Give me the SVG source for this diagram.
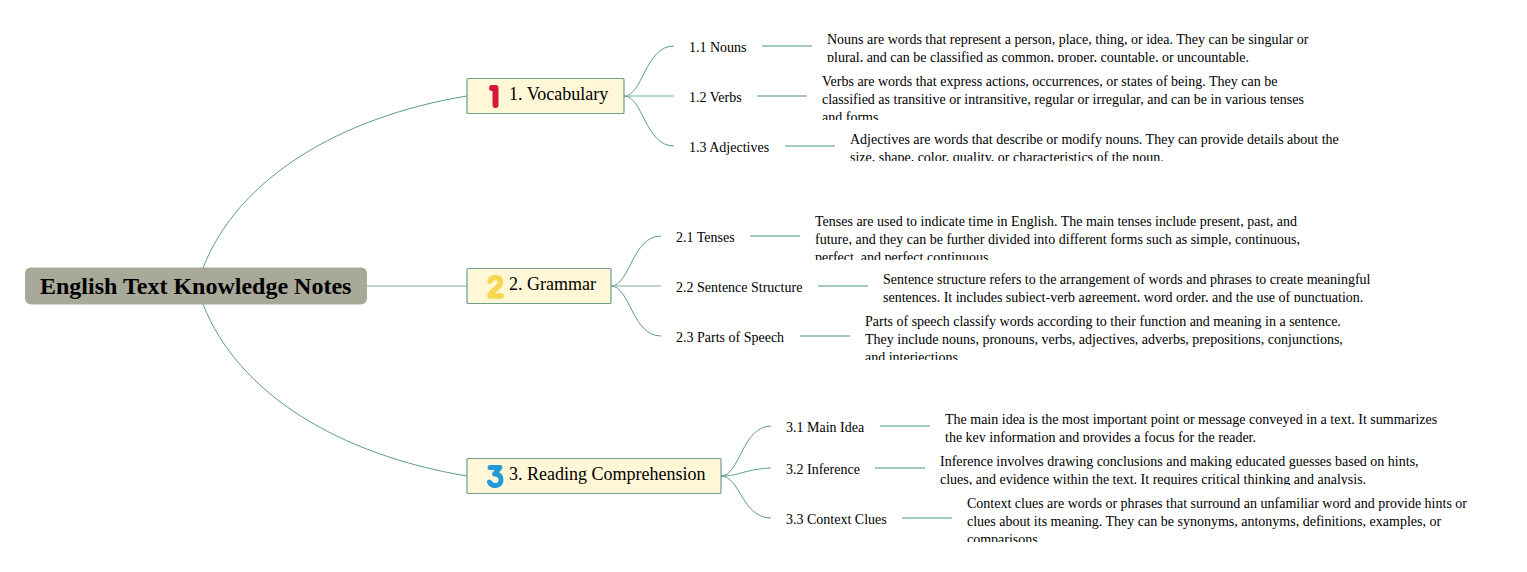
<svg xmlns="http://www.w3.org/2000/svg" width="1527" height="572" viewBox="0 0 1527 572">
<style>
text{font-family:"Liberation Serif","Times New Roman",serif;fill:#000}
.sub,.note{font-size:14px}
.topic{font-size:18px}
.root{font-size:24px;font-weight:bold}
.c{fill:none;stroke:#5f9a8e;stroke-width:1}
.n{fill:none;stroke:#a5c9c0;stroke-width:2}
.t{fill:#fff7d6;stroke:#6f9f90;stroke-width:1.2}
.i{fill:none;stroke-linecap:round;stroke-linejoin:round}
</style>
<defs>
<clipPath id="c11"><rect x="820" y="30" width="500" height="32"/></clipPath>
<clipPath id="c12"><rect x="815" y="72" width="500" height="48"/></clipPath>
<clipPath id="c13"><rect x="845" y="130" width="500" height="31"/></clipPath>
<clipPath id="c21"><rect x="810" y="212" width="500" height="48"/></clipPath>
<clipPath id="c22"><rect x="878" y="270" width="500" height="32"/></clipPath>
<clipPath id="c23"><rect x="860" y="312" width="500" height="48"/></clipPath>
<clipPath id="c31"><rect x="940" y="410" width="500" height="32"/></clipPath>
<clipPath id="c32"><rect x="935" y="452" width="500" height="33"/></clipPath>
<clipPath id="c33"><rect x="962" y="494" width="510" height="48"/></clipPath>
</defs>
<g id="connectors">
<path class="c" d="M203 268C238 178 340 117 467 96"/>
<path class="n" style="stroke-width:1.5" d="M367 286H467"/>
<path class="c" d="M203 304C238 394 340 455 467 476"/>
<path class="c" d="M624 96C643 96 645 46 674 46"/>
<path class="n" style="stroke-width:1.5" d="M624 96H674"/>
<path class="c" d="M624 96C643 96 645 146 674 146"/>
<path class="c" d="M611 286C630 286 632 236 661 236"/>
<path class="n" style="stroke-width:1.5" d="M611 286H661"/>
<path class="c" d="M611 286C630 286 632 336 661 336"/>
<path class="c" d="M721 476C740 476 742 426 771 426"/>
<path class="c" d="M721 476C740 476 745 469 771 468"/>
<path class="c" d="M721 476C740 476 742 518 771 518"/>
<path class="n" d="M762 46H812"/>
<path class="n" d="M757 96H807"/>
<path class="n" d="M785 146H835"/>
<path class="n" d="M750 236H800"/>
<path class="n" d="M818 286H868"/>
<path class="n" d="M800 336H850"/>
<path class="n" d="M880 426H930"/>
<path class="n" d="M875 468H925"/>
<path class="n" d="M902 518H952"/>
</g>
<g id="root"><rect x="25" y="267.500" width="342" height="37" rx="6" fill="#a9a999"/><text class="root" x="40" y="294">English Text Knowledge Notes</text></g>
<g id="topic1"><rect class="t" x="467" y="78.500" width="157" height="35" rx="1"/>
<path class="i" stroke="#d6163a" stroke-width="6" d="M492 88H495.500V105"/>
<text class="topic" x="509" y="100">1. Vocabulary</text></g>
<g id="topic2"><rect class="t" x="467" y="268.500" width="144" height="35" rx="1"/>
<path class="i" stroke="#f7d74f" stroke-width="5.500" d="M490 281C490.500 277 500.500 275.500 500.500 282C500.500 288 491 290 490 296H501"/>
<text class="topic" x="509" y="290">2. Grammar</text></g>
<g id="topic3"><rect class="t" x="467" y="458.500" width="254" height="35" rx="1"/>
<path class="i" stroke="#2299d8" stroke-width="5" d="M490 467.500H500L494.500 474C500 474 501 477 501 480C501 487 491.500 487 489.500 482"/>
<text class="topic" x="509" y="480">3. Reading Comprehension</text></g>
<g id="s11"><text class="sub" x="689" y="52">1.1 Nouns</text></g>
<g id="n11" clip-path="url(#c11)"><text class="note" x="827" y="44">Nouns are words that represent a person, place, thing, or idea. They can be singular or</text><text class="note" x="827" y="62">plural, and can be classified as common, proper, countable, or uncountable.</text></g>
<g id="s12"><text class="sub" x="689" y="102">1.2 Verbs</text></g>
<g id="n12" clip-path="url(#c12)"><text class="note" x="822" y="86">Verbs are words that express actions, occurrences, or states of being. They can be</text><text class="note" x="822" y="104">classified as transitive or intransitive, regular or irregular, and can be in various tenses</text><text class="note" x="822" y="122">and forms.</text></g>
<g id="s13"><text class="sub" x="689" y="152">1.3 Adjectives</text></g>
<g id="n13" clip-path="url(#c13)"><text class="note" x="850" y="144">Adjectives are words that describe or modify nouns. They can provide details about the</text><text class="note" x="850" y="162">size, shape, color, quality, or characteristics of the noun.</text></g>
<g id="s21"><text class="sub" x="676" y="242">2.1 Tenses</text></g>
<g id="n21" clip-path="url(#c21)"><text class="note" x="815" y="226">Tenses are used to indicate time in English. The main tenses include present, past, and</text><text class="note" x="815" y="244">future, and they can be further divided into different forms such as simple, continuous,</text><text class="note" x="815" y="262">perfect, and perfect continuous.</text></g>
<g id="s22"><text class="sub" x="676" y="292">2.2 Sentence Structure</text></g>
<g id="n22" clip-path="url(#c22)"><text class="note" x="883" y="284">Sentence structure refers to the arrangement of words and phrases to create meaningful</text><text class="note" x="883" y="302">sentences. It includes subject-verb agreement, word order, and the use of punctuation.</text></g>
<g id="s23"><text class="sub" x="676" y="342">2.3 Parts of Speech</text></g>
<g id="n23" clip-path="url(#c23)"><text class="note" x="865" y="326">Parts of speech classify words according to their function and meaning in a sentence.</text><text class="note" x="865" y="344">They include nouns, pronouns, verbs, adjectives, adverbs, prepositions, conjunctions,</text><text class="note" x="865" y="362">and interjections.</text></g>
<g id="s31"><text class="sub" x="786" y="432">3.1 Main Idea</text></g>
<g id="n31" clip-path="url(#c31)"><text class="note" x="945" y="424">The main idea is the most important point or message conveyed in a text. It summarizes</text><text class="note" x="945" y="442">the key information and provides a focus for the reader.</text></g>
<g id="s32"><text class="sub" x="786" y="474">3.2 Inference</text></g>
<g id="n32" clip-path="url(#c32)"><text class="note" x="940" y="466">Inference involves drawing conclusions and making educated guesses based on hints,</text><text class="note" x="940" y="484">clues, and evidence within the text. It requires critical thinking and analysis.</text></g>
<g id="s33"><text class="sub" x="786" y="524">3.3 Context Clues</text></g>
<g id="n33" clip-path="url(#c33)"><text class="note" x="967" y="508">Context clues are words or phrases that surround an unfamiliar word and provide hints or</text><text class="note" x="967" y="526">clues about its meaning. They can be synonyms, antonyms, definitions, examples, or</text><text class="note" x="967" y="544">comparisons.</text></g>
</svg>
